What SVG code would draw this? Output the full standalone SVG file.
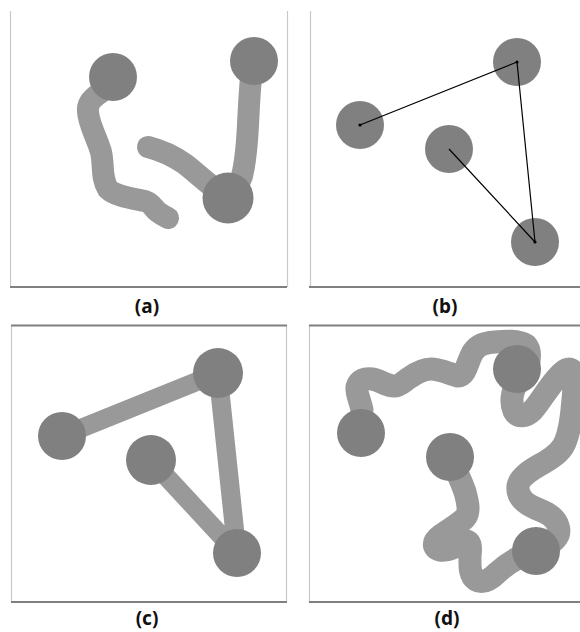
<svg xmlns="http://www.w3.org/2000/svg" width="580" height="632" viewBox="0 0 580 632">
<style>
.side{stroke:#c8c8c8;stroke-width:1.2;fill:none}
.edge{stroke:#808080;stroke-width:2;fill:none}
.node{fill:#808080}
.thick{stroke:#999;stroke-linecap:round;stroke-linejoin:round;fill:none}
.thin{stroke:#000;stroke-width:1.2;fill:none}
.lbl{font-family:"Noto Sans","DejaVu Sans",sans-serif;font-size:19px;font-weight:bold;fill:#111;text-anchor:middle}
</style>
<rect width="580" height="632" fill="#fff"/>
<g id="frames">
<path class="side" d="M10.5 11V287M287.5 11V287"/>
<path class="edge" d="M10 287H287"/>
<path class="side" d="M310.5 11V287"/>
<path class="edge" d="M309 287H580"/>
<path class="side" d="M11.5 325V602M286.5 325V602"/>
<path class="edge" d="M11 325.5H287M11 602H287"/>
<path class="side" d="M309.5 325V602"/>
<path class="edge" d="M309 325.5H580M309 602H580"/>
</g>
<g id="connectors">
<path class="thick" stroke-width="22" d="M100 93 C92 98 87 104 88 112 C89 125 97 138 101 152 C104 165 101 178 108 189 C115 196 130 198 145 201 C152 203 153 208 158 212 C162 215 166 217 168 218"/>
<path class="thick" stroke-width="22" d="M148 147 C160 150 172 155 185 164 C198 174 208 185 228 198"/>
<path class="thick" stroke-width="22" d="M253 60 C250 80 249 105 248 125 C247 145 246 160 242 176 C238 188 233 193 228 198"/>
<path class="thick" stroke-width="19" d="M62 436L218 373L237 553M151 460L237 553"/>
<path class="thick" stroke-width="23" d="M362 410 C360 400 356 393 357 387 C359 380 365 378 372 379 C380 380 386 386 394 386 C400 386 404 381 409 378 C416 373 423 369 431 369 C440 369 450 374 458 376 C466 376 467 362 473 352 C478 345 483 343 495 342 C505 341 518 340 526 345 C531 350 530 358 528 366 M518 382 C512 390 510 402 514 411 C518 418 526 417 533 410 C540 402 548 388 557 378 C563 371 571 364 574 374 C575 385 573 398 572 410 C571 420 569 432 566 440 C563 450 555 456 545 462 C535 468 520 475 518 486 C517 496 524 503 535 508 C545 512 555 516 558 526 C561 535 556 543 536 551"/>
<path class="thick" stroke-width="23" d="M449 457 C455 468 461 480 465 492 C468 503 470 512 465 518 C458 525 448 530 440 536 C433 541 432 548 440 550 C448 552 458 545 465 541 C471 540 471 548 470 556 C470 565 469 575 476 580 C483 584 490 580 498 572 C508 563 520 555 536 551"/>
</g>
<g id="a-n1"><circle class="node" cx="113" cy="77" r="24"/></g>
<g id="a-n2"><circle class="node" cx="254" cy="61" r="24"/></g>
<g id="a-n3"><circle class="node" cx="228" cy="198" r="25.5"/></g>
<g id="b-n1"><circle class="node" cx="517" cy="62" r="24"/></g>
<g id="b-n2"><circle class="node" cx="360" cy="125" r="24"/></g>
<g id="b-n3"><circle class="node" cx="449" cy="149" r="24"/></g>
<g id="b-n4"><circle class="node" cx="535" cy="242" r="24"/></g>
<g id="c-n1"><circle class="node" cx="218" cy="373" r="25"/></g>
<g id="c-n2"><circle class="node" cx="62" cy="436" r="24"/></g>
<g id="c-n3"><circle class="node" cx="151" cy="460" r="25"/></g>
<g id="c-n4"><circle class="node" cx="237" cy="553" r="24"/></g>
<g id="d-n1"><circle class="node" cx="517" cy="369" r="24"/></g>
<g id="d-n2"><circle class="node" cx="361" cy="433" r="24"/></g>
<g id="d-n3"><circle class="node" cx="450" cy="457" r="24"/></g>
<g id="d-n4"><circle class="node" cx="536" cy="551" r="24"/></g>
<g id="connectors-b">
<path class="thin" d="M360 125L517 62L535 242M449 149L535 242"/>
<g fill="#000"><circle cx="360" cy="125" r="1.6"/><circle cx="517" cy="62" r="1.6"/><circle cx="535" cy="242" r="1.6"/></g>
</g>
<g id="labels">
<text class="lbl" x="147" y="313">(a)</text>
<text class="lbl" x="445" y="313">(b)</text>
<text class="lbl" x="147" y="625">(c)</text>
<text class="lbl" x="447" y="625">(d)</text>
</g>
</svg>
